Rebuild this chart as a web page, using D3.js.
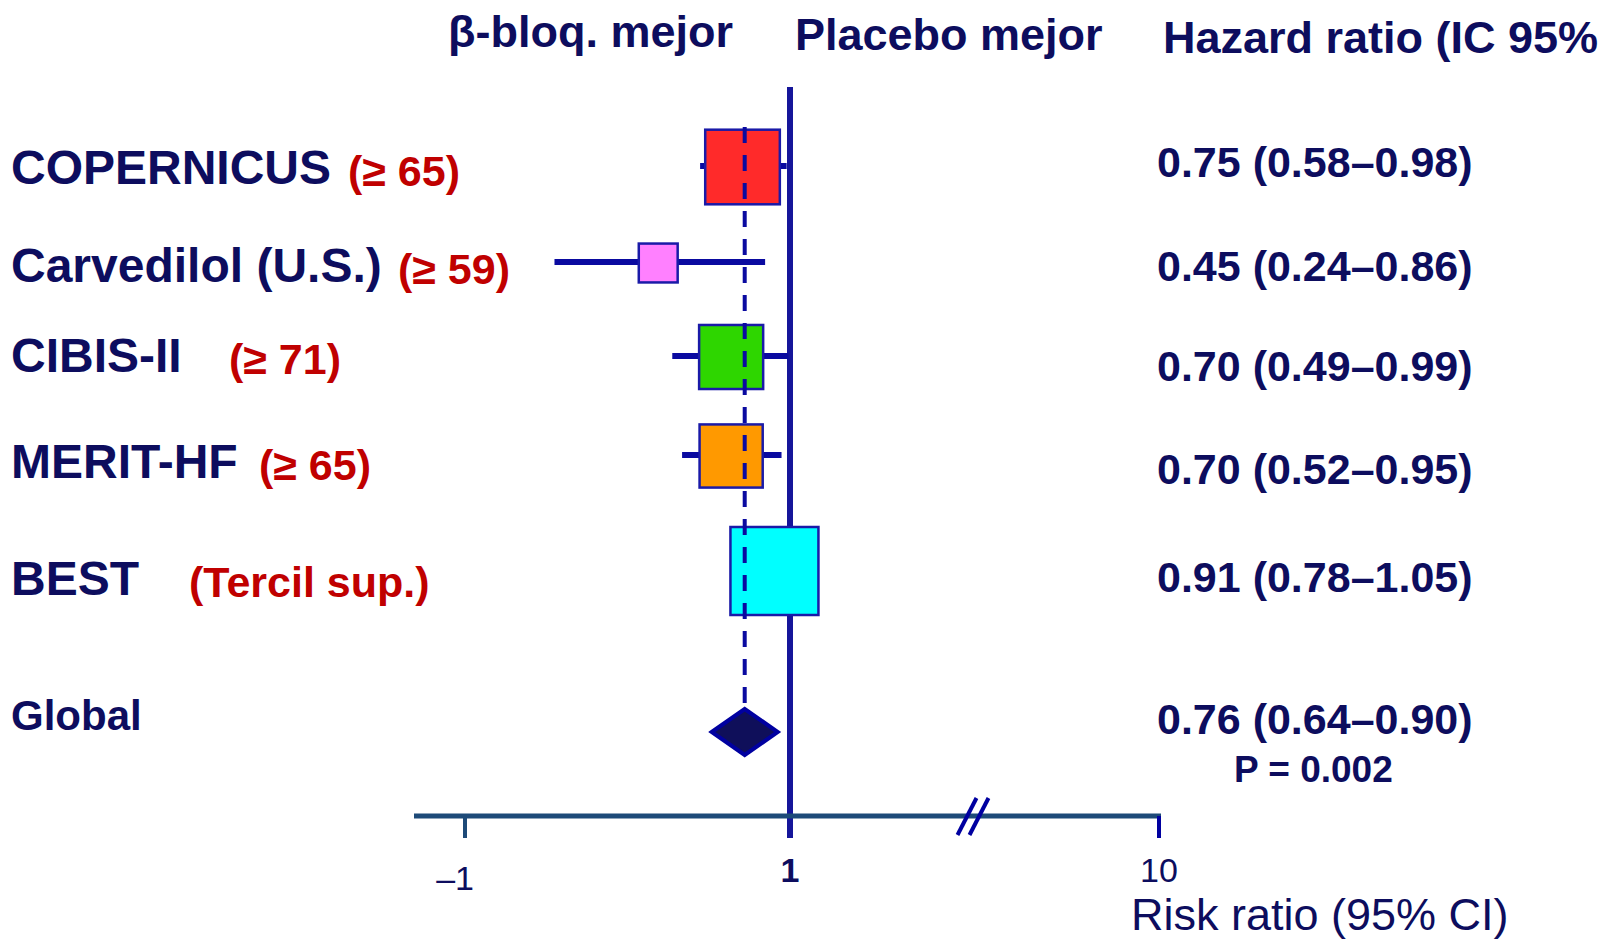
<!DOCTYPE html>
<html>
<head>
<meta charset="utf-8">
<script src="https://cdn.jsdelivr.net/npm/d3@7"></script>
<style>
  body { margin: 0; background: #fff; }
  text { font-family: "Liberation Sans", Arial, sans-serif; }
</style>
</head>
<body>
<div id="forest"></div>
<script>
// values
const studies = ["COPERNICUS", "Carvedilol (U.S.)", "CIBIS-II", "MERIT-HF", "BEST", "Global"];
const subgroups = ["(≥ 65)", "(≥ 59)", "(≥ 71)", "(≥ 65)", "(Tercil sup.)", ""];
const hr = [0.75, 0.45, 0.70, 0.70, 0.91, 0.76];
const lower = [0.58, 0.24, 0.49, 0.52, 0.78, 0.64];
const upper = [0.98, 0.86, 0.99, 0.95, 1.05, 0.90];
const weights = [24.3, 6.6, 17.9, 17.4, 33.8]; // % weight, drives box size
const pValue = "P = 0.002";
const headers = ["β-bloq. mejor", "Placebo mejor", "Hazard ratio (IC 95%"];
const tickValues = [-1, 1, 10];
const tickLabels = ["–1", "1", "10"];
const axisTitle = "Risk ratio (95% CI)";

var W = 1609, H = 943;
var navy = "#0d0d5e", red = "#c00000", blue = "#0a0aa0", lineBlue = "#15159a", steel = "#1d4a78";
var boxFill = ["#ff2a2a", "#ff80ff", "#2ed600", "#ff9900", "#00ffff"];

var svg = d3.select("#forest").append("svg")
  .attr("width", W)
  .attr("height", H);

// scales
var x = d3.scaleLog().domain([0.1, 1]).range([410, 790]);
var axisX = d3.scaleLinear().domain(tickValues).range([465, x(1), 1159]);
var rowY = d3.scaleLinear().domain([0, 1, 2, 3, 4, 5]).range([167, 263, 357, 456, 571, 732]);
var size = d3.scaleSqrt().domain([0, d3.max(weights)]).range([0, 88]);
var labelBase = [184, 282, 372, 478, 595, 730];
var valueBase = [177, 281, 381, 484, 592, 734];
var annotX = [348, 398, 229, 259, 189];
var fmt = d3.format(".2f");
var axisY = 816;

var rows = studies.map(function(s, i) { return { i: i, name: s }; });
var trials = rows.slice(0, 5);

// headers
svg.selectAll(".header").data(headers).enter().append("text")
  .attr("class", "header")
  .attr("x", function(d, i) { return [448, 795, 1163][i]; })
  .attr("y", function(d, i) { return [47, 50, 53][i]; })
  .attr("font-size", 45)
  .attr("font-weight", "bold")
  .attr("fill", navy)
  .text(function(d) { return d; });

// line of no effect
svg.append("line")
  .attr("x1", x(1)).attr("x2", x(1))
  .attr("y1", 87).attr("y2", 838)
  .attr("stroke", lineBlue)
  .attr("stroke-width", 6);

// confidence intervals
svg.selectAll(".ci").data(trials).enter().append("line")
  .attr("class", "ci")
  .attr("x1", function(d) { return x(lower[d.i]); })
  .attr("x2", function(d) { return x(upper[d.i]); })
  .attr("y1", function(d) { return rowY(d.i) - 1; })
  .attr("y2", function(d) { return rowY(d.i) - 1; })
  .attr("stroke", blue)
  .attr("stroke-width", 6);

// boxes
svg.selectAll(".box").data(trials).enter().append("rect")
  .attr("class", "box")
  .attr("x", function(d) { return x(hr[d.i]) - size(weights[d.i]) / 2; })
  .attr("y", function(d) { return rowY(d.i) - size(weights[d.i]) / 2; })
  .attr("width", function(d) { return size(weights[d.i]); })
  .attr("height", function(d) { return size(weights[d.i]); })
  .attr("fill", function(d) { return boxFill[d.i]; })
  .attr("stroke", "#1a1aa8")
  .attr("stroke-width", 2.5);

// pooled estimate, dashed reference
svg.append("line")
  .attr("x1", x(hr[5])).attr("x2", x(hr[5]))
  .attr("y1", rowY(0) - 40).attr("y2", rowY(5) - 26)
  .attr("stroke", blue)
  .attr("stroke-width", 4)
  .attr("stroke-dasharray", "16,12");

var cx = x(hr[5]), cy = rowY(5);
svg.append("path")
  .attr("d", "M" + (cx - 33) + "," + cy + "L" + cx + "," + (cy - 23) + "L" + (cx + 33) + "," + cy + "L" + cx + "," + (cy + 23) + "Z")
  .attr("fill", "#0f0f5a")
  .attr("stroke", "#0000a0")
  .attr("stroke-width", 4)
  .attr("stroke-linejoin", "miter");

// left labels
svg.selectAll(".study").data(rows).enter().append("text")
  .attr("class", "study")
  .attr("x", 11)
  .attr("y", function(d) { return labelBase[d.i]; })
  .attr("font-size", function(d) { return d.i === 5 ? 42 : 48; })
  .attr("font-weight", "bold")
  .attr("fill", navy)
  .text(function(d) { return d.name; });

svg.selectAll(".sub").data(trials).enter().append("text")
  .attr("class", "sub")
  .attr("x", function(d) { return annotX[d.i]; })
  .attr("y", function(d) { return labelBase[d.i] + 2; })
  .attr("font-size", 43)
  .attr("font-weight", "bold")
  .attr("fill", red)
  .text(function(d) { return subgroups[d.i]; });

// right values
svg.selectAll(".val").data(rows).enter().append("text")
  .attr("class", "val")
  .attr("x", 1157)
  .attr("y", function(d) { return valueBase[d.i]; })
  .attr("font-size", 43)
  .attr("font-weight", "bold")
  .attr("fill", navy)
  .text(function(d) { return fmt(hr[d.i]) + " (" + fmt(lower[d.i]) + "–" + fmt(upper[d.i]) + ")"; });

svg.append("text")
  .attr("x", 1234)
  .attr("y", 782)
  .attr("font-size", 37)
  .attr("font-weight", "bold")
  .attr("fill", navy)
  .text(pValue);

// axis
svg.append("line")
  .attr("x1", axisX(-1) - 51).attr("x2", axisX(10) + 2)
  .attr("y1", axisY).attr("y2", axisY)
  .attr("stroke", steel)
  .attr("stroke-width", 5);

svg.selectAll(".tick").data(tickValues.filter(function(d) { return d !== 1; })).enter().append("line")
  .attr("class", "tick")
  .attr("x1", function(d) { return axisX(d); })
  .attr("x2", function(d) { return axisX(d); })
  .attr("y1", axisY)
  .attr("y2", 838)
  .attr("stroke", function(d) { return d < 0 ? steel : "#0000a0"; })
  .attr("stroke-width", 4);

svg.selectAll(".tlab").data(tickValues).enter().append("text")
  .attr("class", "tlab")
  .attr("x", function(d) { return d < 0 ? axisX(d) + 9 : axisX(d); })
  .attr("y", function(d) { return d < 0 ? 890 : 882; })
  .attr("text-anchor", function(d) { return d < 0 ? "end" : "middle"; })
  .attr("font-size", 34)
  .attr("font-weight", function(d) { return d === 1 ? "bold" : "normal"; })
  .attr("fill", navy)
  .text(function(d, i) { return tickLabels[i]; });

// axis break
var bx = (axisX(1) + axisX(10)) / 2;
[-7, 5].forEach(function(o) {
  svg.append("line")
    .attr("x1", bx + o - 10).attr("y1", axisY + 19)
    .attr("x2", bx + o + 9).attr("y2", axisY - 18)
    .attr("stroke", "#0000a0")
    .attr("stroke-width", 4);
});

svg.append("text")
  .attr("x", 1131)
  .attr("y", 930)
  .attr("font-size", 45)
  .attr("fill", navy)
  .text(axisTitle);
</script>
</body>
</html>
